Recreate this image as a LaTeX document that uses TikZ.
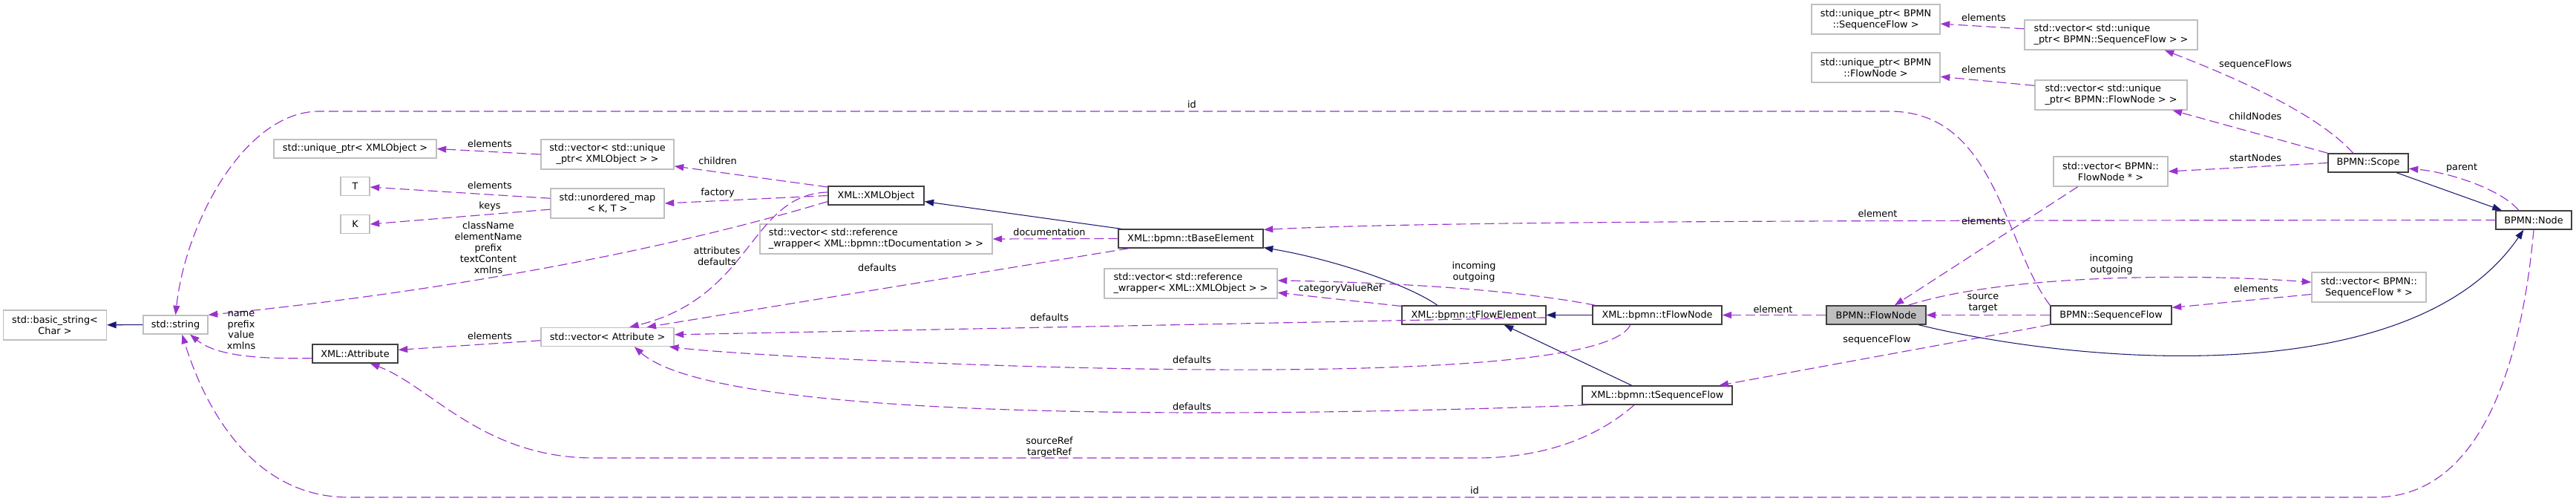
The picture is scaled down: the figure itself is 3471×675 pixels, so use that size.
\documentclass[tikz,border=0pt]{standalone}
\usepackage{fontspec}
\setmainfont{DejaVu Sans}
\usetikzlibrary{arrows.meta}
\definecolor{usecolor}{HTML}{9A32CD}
\definecolor{basecolor}{HTML}{191970}
\definecolor{extgray}{HTML}{BFBFBF}
\definecolor{docgray}{HTML}{404040}

\begin{document}
\begin{tikzpicture}[->, >={Triangle[length=2.5mm,width=1.8mm]}, x=0.2mm, y=-0.2mm,
    class node/.style={rectangle, draw=docgray, fill=white, line width=0.8pt, minimum height=5mm, inner sep=1pt, align=center},
    ext node/.style={class node, draw=extgray},
    focus node/.style={class node, fill=extgray},
    label node/.style={align=center, inner sep=0pt},
    use edge/.style={draw=usecolor, line width=0.65pt, dash pattern=on 2.6mm off 1.2mm},
    base edge/.style={draw=basecolor, line width=0.6pt}]
  \tikzstyle{every node}=[font=\fontsize{7.3}{8.5}\selectfont]
  \useasboundingbox (0,0) rectangle (3471,675);

  \node[ext node, minimum width=27.8mm, minimum height=8mm] (1) at (74,438) {std::basic\_string<\\Char >};
  \node[ext node, minimum width=17.4mm] (2) at (236.5,437.5) {std::string};
  \node[class node, minimum width=23mm] (3) at (478.5,476.5) {XML::Attribute};
  \node[ext node, minimum width=43.8mm] (4) at (478.5,200.5) {std::unique\_ptr< XMLObject >};
  \node[ext node, minimum width=7.8mm] (5) at (478.5,251) {T};
  \node[ext node, minimum width=7.8mm] (6) at (478.5,302) {K};
  \node[ext node, minimum width=35.8mm, minimum height=8mm] (7) at (818.5,208) {std::vector< std::unique\\\_ptr< XMLObject > >};
  \node[ext node, minimum width=30.6mm, minimum height=8mm] (8) at (818.5,274) {std::unordered\_map\\< K, T >};
  \node[ext node, minimum width=35.8mm] (9) at (818.5,454) {std::vector< Attribute >};
  \node[class node, minimum width=25.8mm] (10) at (1180.5,263.5) {XML::XMLObject};
  \node[ext node, minimum width=62.6mm, minimum height=8mm, align=left] (11) at (1180.5,322) {std::vector< std::reference\\\_wrapper< XML::bpmn::tDocumentation > >};
  \node[class node, minimum width=39mm] (12) at (1604.5,321.5) {XML::bpmn::tBaseElement};
  \node[ext node, minimum width=46.6mm, minimum height=8mm, align=left] (13) at (1604.5,382) {std::vector< std::reference\\\_wrapper< XML::XMLObject > >};
  \node[class node, minimum width=38.8mm] (14) at (1986,424.5) {XML::bpmn::tFlowElement};
  \node[class node, minimum width=34.8mm] (15) at (2233,424.5) {XML::bpmn::tFlowNode};
  \node[class node, minimum width=40.4mm] (16) at (2233,532.5) {XML::bpmn::tSequenceFlow};
  \node[focus node, minimum width=26.8mm] (17) at (2528,424.5) {BPMN::FlowNode};
  \node[ext node, minimum width=34.6mm, minimum height=8mm] (18) at (2527.5,26) {std::unique\_ptr< BPMN\\::SequenceFlow >};
  \node[ext node, minimum width=34.6mm, minimum height=8mm] (19) at (2527.5,91) {std::unique\_ptr< BPMN\\::FlowNode >};
  \node[ext node, minimum width=30.8mm, minimum height=8mm] (20) at (2844,231) {std::vector< BPMN::\\FlowNode * >};
  \node[class node, minimum width=32.6mm] (21) at (2844.5,424.5) {BPMN::SequenceFlow};
  \node[ext node, minimum width=46.6mm, minimum height=8mm, align=left] (22) at (2844.5,47) {std::vector< std::unique\\\_ptr< BPMN::SequenceFlow > >};
  \node[ext node, minimum width=41mm, minimum height=8mm, align=left] (23) at (2844.5,128) {std::vector< std::unique\\\_ptr< BPMN::FlowNode > >};
  \node[class node, minimum width=21.6mm] (24) at (3191,219.5) {BPMN::Scope};
  \node[class node, minimum width=20.4mm] (25) at (3414,296.5) {BPMN::Node};
  \node[ext node, minimum width=30.8mm, minimum height=8mm] (26) at (3192,387) {std::vector< BPMN::\\SequenceFlow * >};

  % inheritance
  \path[every edge/.style={base edge}]
    (2) edge (1)
    (12.172) edge (10.-7)
    (14.165) edge[controls={(1900,385) and (1800,350)}] (12.-7)
    (15) edge (14)
    (16.159) edge (14.-18)
    (17.-13) edge[controls={(2800,490) and (3250,530)}] (25.-136)
    (24.-19) edge (25.163);

  % usage
  \path[every edge/.style={use edge}]
    (3.186) edge[controls={(340,484) and (290,478)}] (2.-34)
    (10.170) edge (7.-10)
    (10.west) edge (8.east)
    (10.176) edge[controls={(1010,262) and (1015,400)}] (9.24)
    (10.187) edge[controls={(820,360) and (480,405)}] (2.north east)
    (7.west) edge (4.east)
    (8.175) edge (5.-3)
    (8.186) edge (6.east)
    (9.183) edge (3.5)
    (12.west) edge (11.east)
    (12.-171) edge (9.14)
    (14.173) edge (13.-6)
    (14.-2) edge (9.2)
    (15.171) edge[controls={(2050,392) and (1900,381)}] (13.2)
    (15.-160) edge[controls={(2150,540) and (1050,485)}] (9.-9)
    (16.-172) edge[controls={(1843,557) and (980,580)}] (9.-20)
    (17.west) edge (15.east)
    (17.17) edge[controls={(2700,370) and (2950,368)}] (26.175)
    (20.-155) edge (17.28)
    (21.west) edge (17.east)
    (21.-171) edge (16.9)
    (22.176) edge (18.-4)
    (23.173) edge (19.-8)
    (24.west) edge (20.east)
    (24.north west) edge (23.-14)
    (24.147) edge[controls={(3120,150) and (3000,100)}] (22.-16)
    (25.west) edge[controls={(2600,297) and (1950,297)}] (12.7)
    (25.147) edge[controls={(3370,255) and (3300,232)}] (24.-8)
    (26.187) edge (21.7);

  % the long links
  \draw[use edge] (16.-157) .. controls (2140,600) and (2060,617) .. (1990,617)
    -- (800,617) .. controls (650,617) and (580,520) .. (3.-33);
  \draw[use edge] (21.north west) .. controls (2700,330) and (2690,150) .. (2546,150)
    -- (430,150) .. controls (330,150) and (250,300) .. (2.north);
  \draw[use edge] (25.south) .. controls (3395,520) and (3330,670) .. (3200,670)
    -- (470,670) .. controls (330,670) and (270,530) .. (2.-56);

  % edge labels
  \node[label node] (27) at (325,445) {name\\prefix\\value\\xmlns};
  \node[label node] (28) at (658,334) {className\\elementName\\prefix\\textContent\\xmlns};
  \node[label node] (29) at (967,217) {children};
  \node[label node] (30) at (967,260) {factory};
  \node[label node] (31) at (966,345) {attributes\\defaults};
  \node[label node] (32) at (660,194) {elements};
  \node[label node] (33) at (660,250) {elements};
  \node[label node] (34) at (660,278) {keys};
  \node[label node] (35) at (660,453) {elements};
  \node[label node] (36) at (1414,313) {documentation};
  \node[label node] (37) at (1182,361) {defaults};
  \node[label node] (38) at (1806,389) {categoryValueRef};
  \node[label node] (39) at (1414,428) {defaults};
  \node[label node] (40) at (1986,366) {incoming\\outgoing};
  \node[label node] (41) at (1606,485) {defaults};
  \node[label node] (42) at (1606,548) {defaults};
  \node[label node] (43) at (1414,602) {sourceRef\\targetRef};
  \node[label node] (44) at (1606,141) {id};
  \node[label node] (45) at (1987,661) {id};
  \node[label node] (46) at (2389,417) {element};
  \node[label node] (47) at (2845,356) {incoming\\outgoing};
  \node[label node] (48) at (2673,298) {elements};
  \node[label node] (49) at (2672,409) {source\\target};
  \node[label node] (50) at (2529,458) {sequenceFlow};
  \node[label node] (51) at (2673,24) {elements};
  \node[label node] (52) at (2673,94) {elements};
  \node[label node] (53) at (3039,213) {startNodes};
  \node[label node] (54) at (3039,157) {childNodes};
  \node[label node] (55) at (3039,87) {sequenceFlows};
  \node[label node] (56) at (2530,288) {element};
  \node[label node] (57) at (3317,226) {parent};
  \node[label node] (58) at (3040,389) {elements};
\end{tikzpicture}
\end{document}
